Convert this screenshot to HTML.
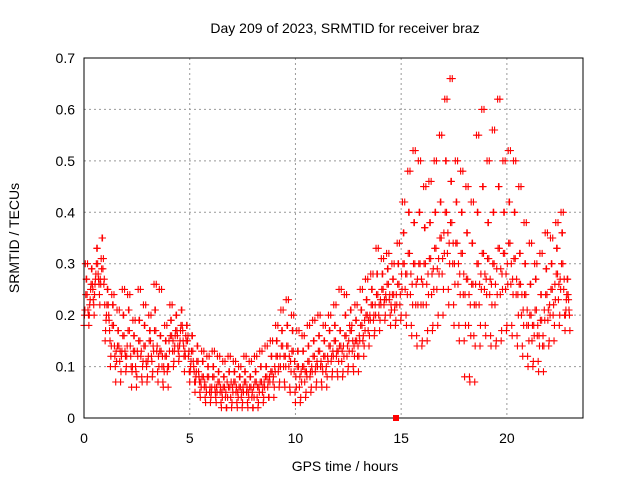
<!DOCTYPE html>
<html><head><meta charset="utf-8"><style>
body{margin:0;background:#fff}
svg{display:block;font-family:"Liberation Sans",sans-serif}
</style></head><body>
<svg id="chart" width="640" height="480">
<text x="345" y="33" text-anchor="middle" font-size="14">Day 209 of 2023, SRMTID for receiver braz</text>
<g id="grid"></g>
<g id="ticks"></g>
<g id="marks"></g>
<rect x="84" y="58" width="499" height="360" fill="none" stroke="#000" stroke-width="1"/>
<text x="345" y="471" text-anchor="middle" font-size="14">GPS time / hours</text>
<text transform="translate(19,238) rotate(-90)" text-anchor="middle" font-size="14">SRMTID / TECUs</text>
<rect x="393" y="415" width="6" height="6" fill="#f00"/>
</svg>
<script>
const xTicks=[0,5,10,15,20];
const yTicks=[0,0.1,0.2,0.3,0.4,0.5,0.6,0.7];
const yTickLabels=["0","0.1","0.2","0.3","0.4","0.5","0.6","0.7"];
const binTimes=[0,0.25,0.5,0.75,1,1.25,1.5,1.75,2,2.25,2.5,2.75,3,3.25,3.5,3.75,4,4.25,4.5,4.75,5,5.25,5.5,5.75,6,6.25,6.5,6.75,7,7.25,7.5,7.75,8,8.25,8.5,8.75,9,9.25,9.5,9.75,10,10.25,10.5,10.75,11,11.25,11.5,11.75,12,12.25,12.5,12.75,13,13.25,13.5,13.75,14,14.25,14.5,14.75,15,15.25,15.5,15.75,16,16.25,16.5,16.75,17,17.25,17.5,17.75,18,18.25,18.5,18.75,19,19.25,19.5,19.75,20,20.25,20.5,20.75,21,21.25,21.5,21.75,22,22.25,22.5,22.75];
const binValues=[
[.18,.21,.24,.27,.30,.20],[.20,.23,.26,.29,.25,.22],[.24,.27,.30,.33,.28,.26],[.22,.26,.29,.35,.31,.27],
[.15,.19,.22,.25,.20,.17],[.10,.14,.18,.22,.24,.12],[.07,.11,.14,.17,.21,.13],[.09,.13,.16,.20,.25,.12],
[.10,.14,.17,.21,.24,.12],[.06,.10,.13,.16,.19,.09],[.08,.12,.15,.19,.25,.13],[.07,.11,.14,.18,.22,.10],
[.08,.12,.15,.17,.20,.11],[.09,.13,.17,.21,.26,.14],[.07,.10,.13,.16,.25,.12],[.06,.09,.12,.15,.18,.10],
[.10,.13,.16,.19,.22,.15],[.11,.14,.17,.20,.16,.13],[.12,.15,.18,.21,.17,.14],[.09,.12,.15,.18,.16,.13],
[.07,.10,.13,.16,.11,.09],[.05,.08,.11,.14,.09,.07],[.04,.06,.08,.11,.13,.07],[.03,.05,.08,.10,.12,.06],
[.04,.06,.08,.10,.13,.05],[.03,.05,.07,.09,.12,.06],[.02,.04,.06,.08,.11,.05],[.02,.04,.06,.09,.12,.07],
[.03,.05,.07,.09,.11,.06],[.02,.04,.06,.08,.10,.05],[.03,.05,.07,.09,.12,.06],[.02,.04,.06,.08,.11,.05],
[.02,.04,.07,.09,.12,.06],[.03,.05,.07,.10,.13,.06],[.04,.06,.08,.10,.14,.07],[.04,.07,.09,.12,.15,.08],
[.06,.09,.12,.15,.18,.10],[.07,.10,.14,.17,.21,.12],[.06,.10,.14,.18,.23,.12],[.05,.09,.13,.17,.20,.11],
[.03,.06,.10,.13,.17,.08],[.04,.07,.10,.13,.16,.09],[.05,.08,.11,.14,.18,.09],[.06,.09,.12,.15,.19,.10],
[.07,.10,.13,.16,.20,.11],[.06,.09,.12,.15,.18,.10],[.08,.11,.14,.17,.20,.12],[.09,.12,.15,.18,.22,.13],
[.08,.11,.14,.17,.25,.13],[.09,.12,.16,.20,.24,.14],[.10,.13,.17,.21,.18,.15],[.09,.12,.15,.19,.22,.14],
[.12,.15,.18,.21,.25,.16],[.14,.17,.20,.23,.27,.19],[.16,.19,.22,.25,.28,.20],[.17,.20,.24,.28,.33,.22],
[.19,.22,.25,.28,.31,.23],[.20,.23,.26,.29,.32,.24],[.18,.21,.24,.27,.30,.22],[.19,.22,.26,.30,.34,.24],
[.20,.25,.30,.36,.42,.28],[.18,.24,.32,.40,.48,.28],[.16,.22,.30,.38,.52,.26],[.14,.22,.30,.40,.50,.27],
[.15,.22,.30,.37,.45,.26],[.17,.24,.31,.38,.46,.28],[.18,.25,.33,.40,.50,.29],[.20,.28,.35,.42,.55,.31],
[.25,.32,.40,.50,.62,.36],[.22,.30,.38,.46,.66,.34],[.18,.26,.34,.42,.50,.30],[.15,.24,.32,.40,.48,.28],
[.08,.18,.27,.36,.45,.24],[.07,.16,.26,.34,.42,.22],[.14,.22,.30,.40,.55,.26],[.18,.25,.32,.45,.60,.28],
[.16,.24,.31,.38,.50,.27],[.14,.22,.30,.40,.56,.26],[.15,.24,.33,.45,.62,.29],[.17,.25,.32,.40,.50,.28],
[.18,.26,.34,.42,.52,.30],[.16,.24,.31,.40,.50,.27],[.14,.20,.26,.32,.45,.24],[.12,.18,.24,.30,.38,.21],
[.10,.15,.20,.26,.34,.18],[.11,.16,.21,.27,.30,.18],[.09,.14,.19,.24,.32,.16],[.14,.19,.24,.29,.36,.21],
[.15,.20,.25,.30,.35,.22],[.18,.23,.28,.33,.38,.26],[.20,.25,.30,.36,.40,.27],[.17,.21,.24,.27,.23,.20]];
const NS="http://www.w3.org/2000/svg";
const X0=84,X1=583,XMAX=23.6,Y0=418,Y1=58,YMAX=0.7;
function xs(t){return X0+(X1-X0)*t/XMAX;}
function ys(v){return Y0-(Y0-Y1)*v/YMAX;}
function mk(tag,attrs,parent){const e=document.createElementNS(NS,tag);for(const k in attrs)e.setAttribute(k,attrs[k]);parent.appendChild(e);return e;}
const grid=document.getElementById('grid'),ticks=document.getElementById('ticks'),marks=document.getElementById('marks');
xTicks.forEach(t=>{
 const x=xs(t);
 if(t>0){const g=mk('line',{x1:x,x2:x,y1:Y1,y2:Y0,stroke:'#999','stroke-dasharray':'2,3'},grid);
 
 }
 const l=mk('text',{x:x,y:443,'text-anchor':'middle','font-size':'14'},ticks);l.textContent=t;
 
 
});
yTicks.forEach((v,i)=>{
 const y=ys(v);
 if(v>0&&v<YMAX){const g=mk('line',{x1:X0,x2:X1,y1:y,y2:y,stroke:'#999','stroke-dasharray':'2,3'},grid);
 
 }
 const l=mk('text',{x:75,y:y+5,'text-anchor':'end','font-size':'14'},ticks);l.textContent=yTickLabels[i];
 
 
});
function plus(x,y){
 const p=mk('path',{d:`M${x-3.5},${y}h7M${x},${y-3.5}v7`,stroke:'#f00','stroke-width':1.1,fill:'none'},marks);
 
 
}
binTimes.forEach((t,b)=>{
 const vals=binValues[b];
 const n=vals.length;
 vals.forEach((v,j)=>{
  plus(xs(t+j*0.042),ys(v));
  plus(xs(t+0.02+(n-1-j)*0.042),ys(v));
 });
});
</script>
</body></html>
